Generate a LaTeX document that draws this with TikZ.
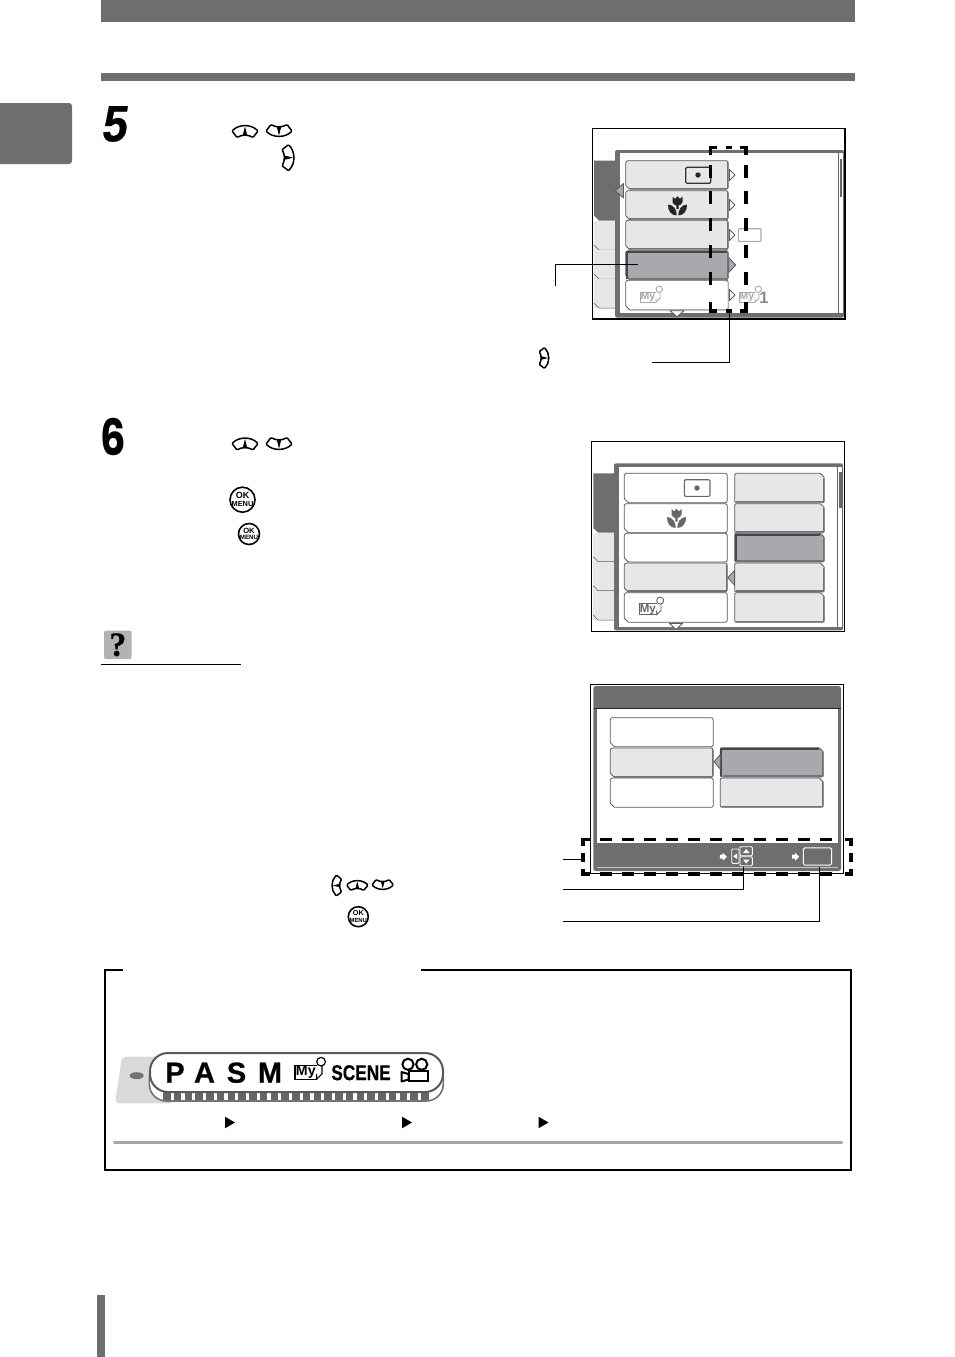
\documentclass[tikz,border=0pt]{standalone}
\usepackage{fontspec}
\setmainfont{Liberation Sans}
\newfontfamily\qfont[FakeBold=0.5]{Liberation Serif}
\newfontfamily\numfont[FakeSlant=0.16,FakeBold=0.7]{Liberation Sans}
\newfontfamily\sixfont{Poppins}
\newfontfamily\dialfont[FakeBold=0.6]{Liberation Sans}
\definecolor{band}{HTML}{6D6E70}
\definecolor{lightbtn}{HTML}{E6E7E8}
\definecolor{selbtn}{HTML}{A7A9AC}
\definecolor{edge}{HTML}{58595B}
\tikzset{
  dsh/.style={line width=3.5pt,black},
  keyline/.style={line width=1.5pt,line join=round,fill=white,rounded corners=1pt},
  leader/.style={line width=1.1pt,black},
  wbtn/.style={fill=white,draw=edge,line width=.8pt,rounded corners=.7pt},
  lbtn/.style={fill=lightbtn,draw=edge,line width=.8pt,rounded corners=.7pt},
  sbtn/.style={fill=selbtn,draw=edge,line width=.8pt,rounded corners=.7pt},
  btnshade/.style={draw=black!55,line width=1.3pt},
  heavy/.style={draw=black!72,line width=2pt},
  whitetri/.style={fill=white,draw=edge,line width=.9pt,line join=round},
  seltri/.style={fill=selbtn,draw=edge,line width=.8pt,line join=round},
}
% left-hand button, bevel at bottom left
\newcommand\BtnL[5]{\draw[#5] (#1+1.5,#2) -- (#3-1.5,#2) -- (#3,#2+1.5) -- (#3,#4-1.5) -- (#3-1.5,#4) -- (#1+4,#4) -- (#1,#4-4) -- (#1,#2+1.5) -- cycle;}
% right-hand button, bevel at top right
\newcommand\BtnR[5]{\draw[#5] (#1+1,#2) -- (#3-4,#2) -- (#3,#2+4) -- (#3,#4-1) -- (#3-1,#4) -- (#1+1,#4) -- (#1,#4-1) -- (#1,#2+1) -- cycle;}
\newcommand\KeyIc[4]{\begin{scope}[shift={(#1,#2)},rotate=#3,scale=#4]
  \draw[keyline] (-13,-.5) .. controls (-6,-7.5) and (6,-7.5) .. (13,-.5) -- (8,6) .. controls (3,3) and (-3,3) .. (-8,6) -- cycle;
  \fill[black] (0,-5) -- (2.3,4) -- (-2.3,4) -- cycle;
\end{scope}}
% x y diameter oksize menusize name
\newcommand\OkIc[6]{\node[circle,draw=black,line width=1.6pt,fill=white,minimum size=#3pt,inner sep=0pt] (#6) at (#1,#2) {};
  \node[inner sep=0pt,anchor=center] at (#1,#2-#3*.17) {\fontsize{#4}{#4}\selectfont\bfseries OK};
  \node[inner sep=0pt,anchor=center] at (#1,#2+#3*.17) {\fontsize{#5}{#5}\selectfont\bfseries MENU};}
% x y colour scale linewidth
\newcommand\MyIc[5]{\begin{scope}[shift={(#1,#2)},scale=#4]
  \draw[#3,line width=#5pt,line join=round] (16,13) -- (0,13) -- (0,3) -- (16,3);
  \node[inner sep=0pt,text=#3,transform shape] at (8,8) {\fontsize{10.5}{10.5}\selectfont\bfseries My};
  \draw[#3,line width=#5pt] (19.3,0) circle (3.2);
  \draw[#3,line width=#5pt,line join=round] (20,3.2) -- (20,9) -- (16,13) -- (16,9);
\end{scope}}
\newcommand\Tulip[3]{\begin{scope}[shift={(#1,#2)},#3]
  \fill (-5,-9.3) -- (-2.4,-7.2) -- (0,-9.6) -- (2.4,-7.2) -- (5,-9.3) -- (5,-4) .. controls (5,-1.5) and (2,-1) .. (1.1,-.5) -- (1.1,3) -- (-1.1,3) -- (-1.1,-.5) .. controls (-2,-1) and (-5,-1.5) .. (-5,-4) -- cycle;
  \fill (-9.5,-1.5) .. controls (-9.8,5) and (-6,9.6) .. (-.8,9.4) .. controls (-.6,4) and (-4,-1.5) .. (-9.5,-1.5) -- cycle;
  \fill (9.5,-1.5) .. controls (9.8,5) and (6,9.6) .. (.8,9.4) .. controls (.6,4) and (4,-1.5) .. (9.5,-1.5) -- cycle;
\end{scope}}
\newcommand\RTri[3]{\draw[whitetri] (#1,#2-5.5) -- (#1+#3,#2) -- (#1,#2+5.5) -- cycle;}
\newcommand\Dia[2]{\fill[white] (#1-3.5,#2-2) -- (#1-.5,#2-2) -- (#1-.5,#2-4) -- (#1+3.5,#2) -- (#1-.5,#2+4) -- (#1-.5,#2+2) -- (#1-3.5,#2+2) -- cycle;}
\begin{document}
\begin{tikzpicture}[x=1pt,y=-1pt]
\useasboundingbox[fill=white] (0,0) rectangle (954,1357);
% page furniture
\fill[band] (101,0) rectangle (855,22);
\fill[band] (101,73) rectangle (855,81);
\fill[band,rounded corners=3pt] (-5,103) rectangle (72,164);
\fill[band] (97,1295) rectangle (105,1357);
% numerals
\node[inner sep=0pt,anchor=center] (numfive) at (113.3,124) {\scalebox{.88}[1]{\fontsize{51}{51}\numfont\bfseries 5}};
\node[inner sep=0pt,anchor=center] (numsix) at (113.3,436.5) {\scalebox{.8}[1]{\fontsize{50}{50}\sixfont\bfseries 6}};
% key icons
\KeyIc{245}{131.5}{0}{1}
\KeyIc{279}{130.5}{180}{1}
\KeyIc{288}{157.7}{-90}{1}
\KeyIc{544}{358}{-90}{.8}
\KeyIc{245}{444}{0}{1}
\KeyIc{279}{443.5}{180}{1}
\KeyIc{336.8}{885.5}{90}{.8}
\KeyIc{357.3}{885.5}{0}{.82}
\KeyIc{382.7}{884.5}{180}{.82}
\OkIc{242.5}{499.7}{25}{9}{7.4}{okone}
\OkIc{249}{534}{21}{7.6}{6.2}{oktwo}
\OkIc{358.3}{916.7}{20}{7.2}{5.9}{okthree}
% hint mark
\node[fill=black!30,rounded corners=2pt,minimum width=27.5pt,minimum height=28.5pt,inner sep=0pt] (hintbox) at (117.8,644.8) {};
\node[inner sep=0pt] (hintq) at (hintbox.center) {\fontsize{34}{34}\qfont\bfseries ?};
\coordinate (rulea) at (101,664.3);
\coordinate (ruleb) at (241,664.3);
\draw[line width=1pt] (rulea) -- (ruleb);

% ===== screen 1 =====
\draw[line width=1.3pt] (592.3,128.7) rectangle (845,319);
\fill[band] (594,160.7) -- (615,160.7) -- (615,220.7) -- (599,220.7) -- (594,215.5) -- cycle;
\foreach \a/\b in {220.7/250,250/279,279/308}{
  \fill[lightbtn] (594,\a) rectangle (615,\b);
  \draw[edge,line width=.5pt] (594,\b-5) -- (599,\b) -- (615,\b);
}
\fill[band,rounded corners=2pt] (615,150) rectangle (844,317.5);
\fill[white] (620,153) rectangle (842.7,312.7);
\draw[black!60,line width=.8pt] (838.5,153) -- (838.5,312.7);
\fill[black!60] (839.7,159) rectangle (842.2,197);
\BtnL{625.7}{160.7}{728.3}{189.3}{lbtn}
\draw[btnshade] (629,188.3) -- (727.3,188.3) -- (727.3,162);
\BtnL{625.7}{190.7}{728.3}{219.7}{lbtn}
\draw[btnshade] (629,218.7) -- (727.3,218.7) -- (727.3,192);
\BtnL{625.7}{220.3}{728.3}{249.7}{lbtn}
\draw[btnshade] (629,248.7) -- (727.3,248.7) -- (727.3,222);
\BtnL{625.7}{250.7}{728.3}{279.7}{sbtn}
\draw[heavy] (626.7,279) -- (626.7,252) -- (727,252);
\draw[btnshade] (630,278.7) -- (727.3,278.7) -- (727.3,253);
\BtnL{625.7}{280.3}{728.3}{310}{wbtn}
\draw[selbtn,line width=1.2pt] (728.3,282) -- (728.3,309.5) -- (630,309.5);
\RTri{729.5}{175}{5.5}
\RTri{729.5}{205}{5.5}
\RTri{729.5}{235}{5.5}
\draw[seltri] (728.7,257.5) -- (735.7,265) -- (728.7,272.5) -- cycle;
\RTri{729.5}{295}{5.5}
\draw[seltri] (623.5,183.5) -- (615.3,190.7) -- (623.5,198) -- cycle;
\draw[whitetri] (670,310.7) -- (684,310.7) -- (677,316.9) -- cycle;
\draw[black!80,line width=1.2pt,rounded corners=1.2pt] (685.7,167.3) rectangle (710.7,183.3);
\fill[black!85] (698,175) circle (2.7);
\Tulip{677.5}{206}{black!85}
\draw[selbtn,line width=1.1pt,rounded corners=1pt] (738.3,228.7) rectangle (761,241.3);
\MyIc{640}{289.3}{selbtn}{1}{.9}
\MyIc{739}{289.3}{selbtn}{1}{.9}
\node[inner sep=0pt,text=black!45] (numone) at (764,297.5) {\fontsize{16.5}{16.5}\selectfont\bfseries 1};
% dashed window 1
\draw[dsh] (717,147.3) -- (710.7,147.3) -- (710.7,155);
\draw[dsh] (739.7,147.3) -- (746,147.3) -- (746,155);
\draw[dsh] (725.5,147.3) -- (732,147.3);
\draw[dsh] (717,311) -- (710.7,311) -- (710.7,302);
\draw[dsh] (739.7,311) -- (746,311) -- (746,302);
\draw[dsh] (725.5,311) -- (732,311);
\foreach \y in {165,191,218,245,272}{
  \draw[dsh] (710.7,\y) -- (710.7,\y+13);
  \draw[dsh] (746,\y) -- (746,\y+13);
}
% leaders of screen 1
\coordinate (selbtnpt) at (638,264.3);
\coordinate (selleadbend) at (555.3,264.3);
\coordinate (selleadend) at (555.3,286);
\draw[line width=.9pt] (selleadend) -- (selleadbend) -- (selbtnpt);
\coordinate (winbot) at (729.3,312);
\coordinate (winbend) at (729.3,362.3);
\coordinate (winend) at (652,362.3);
\draw[leader] (winbot) -- (winbend) -- (winend);

% ===== screen 2 =====
\draw[line width=1pt] (591,441.7) rectangle (844.5,631);
\fill[band] (593.3,473.3) -- (614,473.3) -- (614,532.7) -- (598,532.7) -- (593.3,528) -- cycle;
\foreach \a/\b in {532.7/561.7,561.7/590.7,590.7/620}{
  \fill[lightbtn] (593.3,\a) rectangle (614,\b);
  \draw[edge,line width=.5pt] (593.3,\b-5) -- (598,\b) -- (614,\b);
}
\fill[band,rounded corners=2pt] (614,463.3) rectangle (843,630.3);
\fill[white] (619.3,466.7) rectangle (842,626.7);
\draw[black!60,line width=.8pt] (837.5,466.7) -- (837.5,626.7);
\fill[black!60] (838.8,471.7) rectangle (841.5,508);
\BtnL{624.3}{473.3}{727.3}{502.7}{wbtn}
\BtnL{624.3}{503.7}{727.3}{532.7}{wbtn}
\BtnL{624.3}{533.3}{727.3}{562}{wbtn}
\BtnL{624.3}{563}{727.3}{592}{lbtn}
\draw[btnshade] (628,591) -- (726.3,591) -- (726.3,565);
\BtnL{624.3}{592.7}{727.3}{622.3}{wbtn}
\BtnR{734.7}{473.3}{824.3}{502.7}{lbtn}
\draw[btnshade] (736,501.7) -- (823.3,501.7) -- (823.3,478);
\BtnR{734.7}{503.7}{824.3}{532.7}{lbtn}
\draw[btnshade] (736,531.7) -- (823.3,531.7) -- (823.3,508);
\BtnR{734.7}{533.3}{824.3}{562}{sbtn}
\draw[heavy] (735.7,561) -- (735.7,534.6) -- (819.5,534.6);
\draw[btnshade] (737,561) -- (823.3,561) -- (823.3,538);
\BtnR{734.7}{563}{824.3}{592}{lbtn}
\draw[btnshade] (736,591) -- (823.3,591) -- (823.3,568);
\BtnR{734.7}{592.7}{824.3}{622.3}{lbtn}
\draw[btnshade] (736,621.3) -- (823.3,621.3) -- (823.3,597);
\draw[seltri] (734.5,570.5) -- (727.7,577.7) -- (734.5,585) -- cycle;
\draw[whitetri] (669.3,623.3) -- (682.7,623.3) -- (676,629.5) -- cycle;
\draw[black!60,line width=1.1pt,rounded corners=1.2pt] (684.3,479.7) rectangle (710,496.3);
\fill[black!60] (697,488) circle (2.7);
\Tulip{676.5}{518.5}{black!60}
\MyIc{639}{600.6}{black!60}{1.1}{.9}

% ===== screen 3 =====
\draw[line width=1pt] (590.7,684) rectangle (843.3,873.3);
\fill[band,rounded corners=2.5pt] (593.3,686) rectangle (841,871);
\fill[white] (596.7,708.5) rectangle (838.3,843.3);
\draw[black!85,line width=.6pt] (593.5,708.2) -- (841,708.2);
\draw[black!22,line width=1pt] (597,867.8) -- (838,867.8);
\BtnL{610.3}{717.7}{713.3}{746.7}{wbtn}
\BtnL{610.3}{748}{713.3}{777.3}{lbtn}
\draw[btnshade] (614,776.3) -- (712.3,776.3) -- (712.3,750);
\BtnL{610.3}{778}{713.3}{807.3}{wbtn}
\BtnR{720.3}{747.7}{823.3}{777}{sbtn}
\draw[heavy] (721.3,776) -- (721.3,749) -- (818.5,749);
\draw[btnshade] (722.5,776) -- (822.3,776) -- (822.3,752);
\BtnR{720.3}{778}{823.3}{807.3}{lbtn}
\draw[btnshade] (721.5,806.3) -- (822.3,806.3) -- (822.3,782);
\draw[seltri] (720.3,754.5) -- (714,761.7) -- (720.3,769) -- cycle;
% footer icons
\Dia{723.3}{856.7}
\draw[white,line width=.9pt,rounded corners=1pt] (731.7,849) rectangle (739,863.3);
\fill[white] (733.2,856.2) -- (737,853.5) -- (737,859) -- cycle;
\draw[white,line width=.9pt,rounded corners=1pt] (740,846.7) rectangle (752.3,855.7);
\fill[white] (746.2,849) -- (749.5,853) -- (743,853) -- cycle;
\draw[white,line width=.9pt,rounded corners=1pt] (740,856.7) rectangle (752.3,865.7);
\fill[white] (746.2,863.5) -- (749.5,859.5) -- (743,859.5) -- cycle;
\Dia{795.7}{856.7}
\node[draw=white,line width=1pt,rounded corners=1.5pt,minimum width=28.4pt,minimum height=17.3pt,inner sep=0pt] (okfoot) at (817.5,856.4) {};
% dashed window 3
\draw[dsh] (589.5,839.3) -- (583,839.3) -- (583,845.5);
\draw[dsh] (844.5,839.3) -- (851,839.3) -- (851,845.5);
\draw[dsh] (589.5,874) -- (583,874) -- (583,869);
\draw[dsh] (844.5,874) -- (851,874) -- (851,869);
\draw[dsh] (583,853.3) -- (583,861.7);
\draw[dsh] (851,853.3) -- (851,861.7);
\foreach \x in {600,622,644,666,688,710,732,754,776,798,820}{
  \draw[dsh] (\x,839.3) -- (\x+11.5,839.3);
  \draw[dsh] (\x,874) -- (\x+11.5,874);
}
% leaders of screen 3
\coordinate (dashleft) at (582,859.3);
\coordinate (leadone) at (563.3,859.3);
\draw[line width=.9pt] (leadone) -- (dashleft);
\coordinate (keyspt) at (743.7,866.7);
\coordinate (keysbend) at (743.7,889.3);
\coordinate (leadtwo) at (563.3,889.3);
\draw[line width=.9pt] (leadtwo) -- (keysbend) -- (keyspt);
\coordinate (okpt) at (819,866.7);
\coordinate (okbend) at (819,921);
\coordinate (leadthree) at (563.3,921);
\draw[line width=.9pt] (leadthree) -- (okbend) -- (okpt);

% ===== bottom box =====
\draw[line width=2pt] (123,970) -- (105,970) -- (105,1170) -- (851,1170) -- (851,970) -- (421,970);
% dial
\fill[black!15,rounded corners=4pt] (122,1056.7) -- (173,1056.7) -- (173,1103.3) -- (115,1103.3) -- cycle;
\fill[black!55] (136.7,1075.7) ellipse (7 and 3.5);
\fill[white,draw=black!55,line width=1.6pt,rounded corners=17pt] (149.3,1061) rectangle (443.3,1101);
\foreach \i in {0,...,24}{
  \fill[black!60] (163+\i*10.75,1092) rectangle (170.5+\i*10.75,1099.5);
}
\fill[white,draw=black!65,line width=2pt,rounded corners=18pt] (150,1053) rectangle (443,1092);
\node[inner sep=0pt] (modep) at (175,1072.7) {\fontsize{29}{29}\dialfont\bfseries P};
\node[inner sep=0pt] (modea) at (204.5,1072.7) {\fontsize{29}{29}\dialfont\bfseries A};
\node[inner sep=0pt] (modes) at (236.5,1072.7) {\fontsize{29}{29}\dialfont\bfseries S};
\node[inner sep=0pt] (modem) at (270,1072.7) {\fontsize{29}{29}\dialfont\bfseries M};
\MyIc{295}{1061.7}{black}{1.35}{1.2}
\node[inner sep=0pt] (modescene) at (361,1072.7) {\scalebox{.8}[1]{\fontsize{21.5}{21.5}\dialfont\bfseries SCENE}};
% movie camera
\draw[line width=2pt] (408,1064.3) circle (5.6);
\draw[line width=2pt] (421.7,1064.3) circle (5.6);
\draw[line width=2pt,fill=white] (408.5,1071) rectangle (427.5,1080.5);
\draw[line width=2pt,fill=white,line join=round] (408.5,1074) -- (401.5,1072) -- (401.5,1081.5) -- (408.5,1079.5) -- cycle;
% flow
\foreach \x in {225,402,538.5}{
  \fill[black] (\x,1116.7) -- (\x+10,1122.5) -- (\x,1128.3) -- cycle;
}
\draw[black!35,line width=3.5pt,line cap=round] (114.5,1142.7) -- (841.5,1142.7);
\end{tikzpicture}
\end{document}
